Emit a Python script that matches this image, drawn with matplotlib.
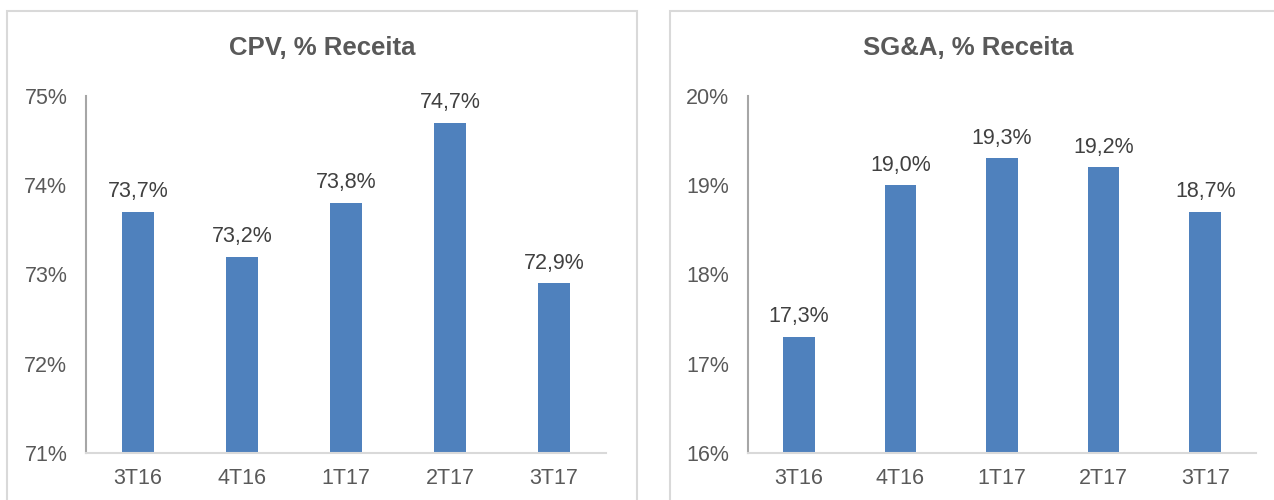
import matplotlib
matplotlib.use("Agg")
import matplotlib.pyplot as plt
from matplotlib.patches import Rectangle

plt.rcParams["font.family"] = ["Liberation Sans", "DejaVu Sans"]

quarters = ["3T16", "4T16", "1T17", "2T17", "3T17"]
cpv = [73.7, 73.2, 73.8, 74.7, 72.9]
sga = [17.3, 19.0, 19.3, 19.2, 18.7]

BAR_COLOR = "#4f81bd"
W, H = 1274, 500


def px_axes(fig, x0, x1, y_top, y_bot):
    return fig.add_axes([x0 / W, (H - y_bot) / H, (x1 - x0) / W, (y_bot - y_top) / H])


def draw_panel(fig, ax, values, ylim, title, title_x):
    x = range(len(values))
    ax.bar(x, [v - ylim[0] for v in values], bottom=ylim[0], width=0.31, color=BAR_COLOR)
    ax.set_xlim(-0.5, len(values) - 0.5)
    ax.set_ylim(*ylim)
    ax.set_xticks(list(x))
    ax.set_xticklabels(quarters)
    ticks = list(range(ylim[0], ylim[1] + 1))
    ax.set_yticks(ticks)
    ax.set_yticklabels([f"{t}%" for t in ticks])
    ax.tick_params(axis="both", length=0, labelsize=15.5, colors="#595959")
    ax.tick_params(axis="y", pad=13.5)
    ax.tick_params(axis="x", pad=11)
    for s in ["top", "right"]:
        ax.spines[s].set_visible(False)
    ax.spines["left"].set_color("#a6a6a6")
    ax.spines["left"].set_linewidth(1.5)
    ax.spines["bottom"].set_color("#d9d9d9")
    ax.spines["bottom"].set_linewidth(1.5)
    for i, v in enumerate(values):
        ax.annotate(f"{v:.1f}%".replace(".", ","), (i, v), xytext=(0, 7),
                    textcoords="offset points", ha="center", va="bottom",
                    fontsize=15.5, color="#404040")
    fig.text(title_x / W, (H - 48) / H, title, ha="center", va="center",
             fontsize=18.5, fontweight="bold", color="#595959")


fig = plt.figure(figsize=(W / 100, H / 100), dpi=100)

fig.patches.append(Rectangle((7 / W, -0.1), (637 - 7) / W, (H - 11) / H + 0.1,
                             transform=fig.transFigure, fill=False,
                             edgecolor="#d9d9d9", linewidth=1.5))
fig.patches.append(Rectangle((670 / W, -0.1), 0.5, (H - 11) / H + 0.1,
                             transform=fig.transFigure, fill=False,
                             edgecolor="#d9d9d9", linewidth=1.5))

ax1 = px_axes(fig, 86, 606, 96, 453)
draw_panel(fig, ax1, cpv, (71, 75), "CPV, % Receita", 322)

ax2 = px_axes(fig, 748, 1256, 96, 453)
draw_panel(fig, ax2, sga, (16, 20), "SG&A, % Receita", 968)

fig.savefig("out.png", dpi=100)
